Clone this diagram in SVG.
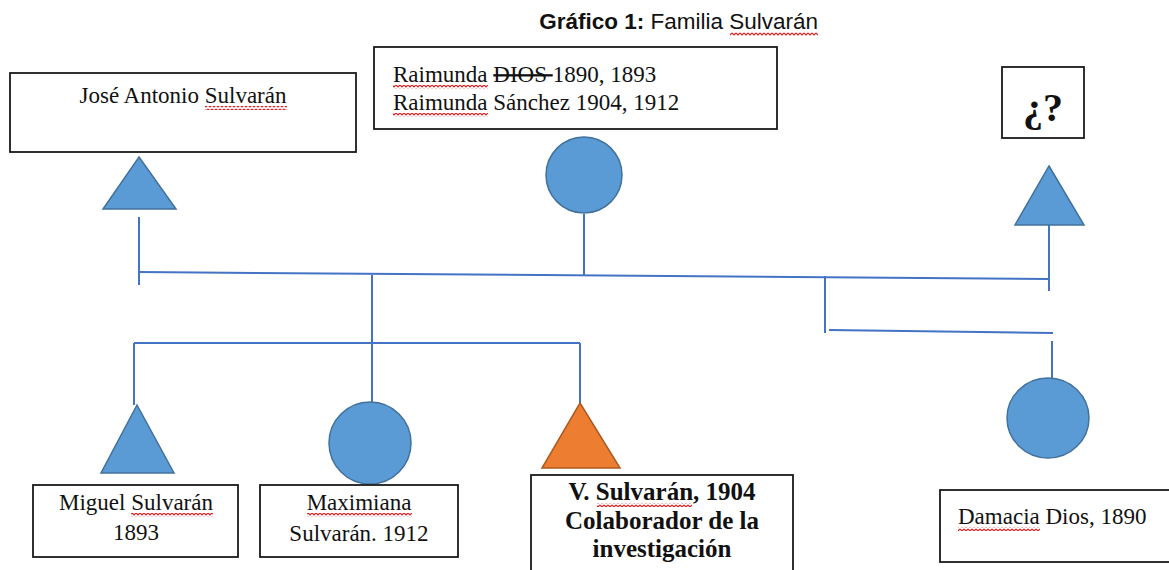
<svg xmlns="http://www.w3.org/2000/svg" width="1169" height="570" viewBox="0 0 1169 570">
<style>
.box{fill:#fff;stroke:#1a1a1a;stroke-width:1.8}
.blue{fill:#5B9BD5;stroke:#41719C;stroke-width:1.5}
.orange{fill:#ED7D31;stroke:#AE5A21;stroke-width:1.5}
.conn line,.conn polyline{stroke:#4472C4;stroke-width:2;fill:none}
.t{font-family:"Liberation Serif","Times New Roman",serif;font-size:23px;fill:#111}
.tb{font-family:"Liberation Serif","Times New Roman",serif;font-size:25px;font-weight:bold;fill:#111}
.q{font-family:"Liberation Serif","Times New Roman",serif;font-size:40px;font-weight:bold;fill:#111}
.title{font-family:"Liberation Sans",Arial,sans-serif;font-size:22.5px;fill:#111}
.sq{fill:url(#squig)}
</style>
<defs>
<pattern id="squig" patternUnits="userSpaceOnUse" width="4" height="4">
<path d="M0,1 L2,3 L4,1" stroke="#E02020" stroke-width="1.2" fill="none"/>
</pattern>
</defs>

<g id="title">
<text class="title" x="818" y="29" text-anchor="end"><tspan font-weight="bold">Gráfico 1:</tspan> Familia Sulvarán</text>
<rect class="sq" x="730" y="32" width="88" height="4"/>
</g>

<g class="conn" id="connectors">
<line x1="139" y1="217" x2="139" y2="285"/>
<line x1="139" y1="272" x2="1049" y2="279"/>
<line x1="584" y1="214" x2="584" y2="275"/>
<line x1="1049" y1="225" x2="1049" y2="291"/>
<line x1="372" y1="275" x2="372" y2="343"/>
<line x1="134" y1="343" x2="580" y2="343"/>
<line x1="134" y1="343" x2="134" y2="405"/>
<line x1="372" y1="343" x2="372" y2="402"/>
<line x1="580" y1="343" x2="580" y2="403"/>
<line x1="825" y1="276" x2="825" y2="333"/>
<line x1="829" y1="330" x2="1053" y2="333"/>
<line x1="1052" y1="341" x2="1052" y2="378"/>
</g>

<g id="jose">
<rect class="box" x="10" y="73" width="346" height="79"/>
<text class="t" x="183" y="103" text-anchor="middle">José Antonio Sulvarán</text>
<rect class="sq" x="205" y="106" width="82" height="4"/>
<polygon class="blue" points="139,157 176,209 103,209"/>
</g>

<g id="raimunda">
<rect class="box" x="374" y="47" width="403" height="82"/>
<text class="t" x="393" y="82">Raimunda <tspan text-decoration="line-through">DIOS </tspan>1890, 1893</text>
<text class="t" x="393" y="110">Raimunda Sánchez 1904, 1912</text>
<rect class="sq" x="393" y="85" width="95" height="4"/>
<rect class="sq" x="393" y="113" width="95" height="4"/>
<circle class="blue" cx="584" cy="175" r="38"/>
</g>

<g id="unknown">
<rect class="box" x="1002" y="67" width="82" height="71"/>
<text class="q" x="1043" y="121" text-anchor="middle">¿?</text>
<polygon class="blue" points="1049,166 1084,225 1015,225"/>
</g>

<g id="miguel">
<polygon class="blue" points="137,405 174,473 101,473"/>
<rect class="box" x="33" y="485" width="205" height="72"/>
<text class="t" x="136" y="510" text-anchor="middle">Miguel Sulvarán</text>
<text class="t" x="136" y="540" text-anchor="middle">1893</text>
<rect class="sq" x="131" y="513" width="82" height="4"/>
</g>

<g id="maximiana">
<ellipse class="blue" cx="370" cy="443" rx="41" ry="41"/>
<rect class="box" x="260" y="485" width="198" height="72"/>
<text class="t" x="359" y="510" text-anchor="middle">Maximiana</text>
<text class="t" x="359" y="541" text-anchor="middle">Sulvarán. 1912</text>
<rect class="sq" x="307" y="513" width="105" height="4"/>
</g>

<g id="v-sulvaran">
<polygon class="orange" points="580,403 620,468 542,468"/>
<rect class="box" x="531" y="475" width="262" height="100"/>
<text class="tb" x="662" y="500" text-anchor="middle">V. Sulvarán, 1904</text>
<text class="tb" x="662" y="529" text-anchor="middle">Colaborador de la</text>
<text class="tb" x="662" y="557" text-anchor="middle">investigación</text>
<rect class="sq" x="597" y="503" width="95" height="4"/>
</g>

<g id="damacia">
<ellipse class="blue" cx="1048" cy="418" rx="41" ry="40"/>
<rect class="box" x="940" y="490" width="235" height="72"/>
<text class="t" x="958" y="524">Damacia Dios, 1890</text>
<rect class="sq" x="958" y="527" width="82" height="4"/>
</g>
</svg>
